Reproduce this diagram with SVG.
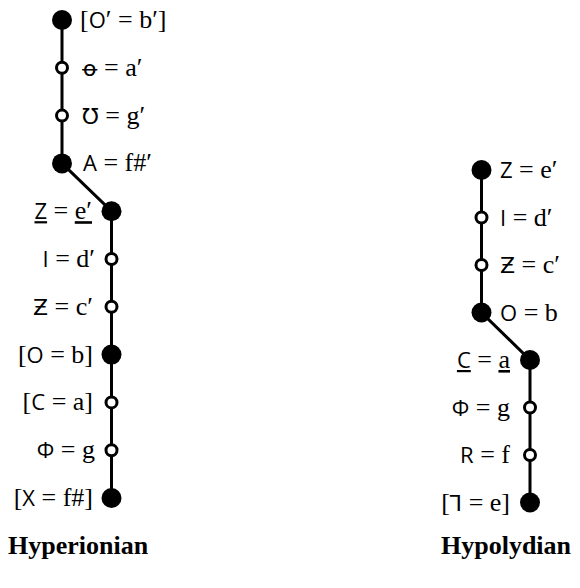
<svg xmlns="http://www.w3.org/2000/svg" width="580" height="588" viewBox="0 0 580 588">
<style>
.edge{stroke:#000;stroke-width:3;fill:none}
.full{fill:#000}
.open{fill:#fff;stroke:#000;stroke-width:3}
.lab{font-family:"Liberation Serif","DejaVu Serif",serif;font-size:26px;fill:#000}
.sym{font-family:"Open Sans","DejaVu Sans",sans-serif;font-size:22px}
.s{text-anchor:start}
.e{text-anchor:end}
.u{text-decoration:underline}
.title{font-family:"Liberation Serif",serif;font-size:26px;font-weight:bold;fill:#000}
</style>
<rect width="580" height="588" fill="#fff"/>
<g id="connectors">
<polyline class="edge" points="62,20 62,163.4 111.5,211.2 111.5,498"/>
<polyline class="edge" points="481.5,170 481.5,312.5 530,360 530,502.5"/>
</g>
<g id="L1"><circle class="full" cx="62" cy="20" r="10"/><text class="lab s" x="80" y="28">[<tspan class="sym">O</tspan>′ = b′]</text></g>
<g id="L2"><circle class="open" cx="62" cy="67.8" r="5.5"/><text class="lab s" x="82" y="75.8"><tspan class="sym">ꝋ</tspan> = a′</text></g>
<g id="L3"><circle class="open" cx="62" cy="115.6" r="5.5"/><text class="lab s" x="82" y="123.6"><tspan class="sym">Ʊ</tspan> = g′</text></g>
<g id="L4"><circle class="full" cx="62" cy="163.4" r="10"/><text class="lab s" x="83" y="171.4"><tspan class="sym">A</tspan> = f#′</text></g>
<g id="L5"><circle class="full" cx="111.5" cy="211.2" r="10"/><text class="lab e" x="92" y="219.2"><tspan class="sym u">Z</tspan> = <tspan class="u">e′</tspan></text></g>
<g id="L6"><circle class="open" cx="111.5" cy="259" r="5.5"/><text class="lab e" x="95" y="267"><tspan class="sym">I</tspan> = d′</text></g>
<g id="L7"><circle class="open" cx="111.5" cy="306.8" r="5.5"/><text class="lab e" x="93" y="314.8"><tspan class="sym">Ƶ</tspan> = c′</text></g>
<g id="L8"><circle class="full" cx="111.5" cy="354.6" r="10"/><text class="lab e" x="93" y="362.6">[<tspan class="sym">O</tspan> = b]</text></g>
<g id="L9"><circle class="open" cx="111.5" cy="402.4" r="5.5"/><text class="lab e" x="93" y="410.4">[<tspan class="sym">C</tspan> = a]</text></g>
<g id="L10"><circle class="open" cx="111.5" cy="450.2" r="5.5"/><text class="lab e" x="95" y="458.2"><tspan class="sym">Φ</tspan> = g</text></g>
<g id="L11"><circle class="full" cx="111.5" cy="498" r="10"/><text class="lab e" x="93" y="506">[<tspan class="sym">X</tspan> = f#]</text></g>
<g id="R1"><circle class="full" cx="481.5" cy="170" r="10"/><text class="lab s" x="500" y="178"><tspan class="sym">Z</tspan> = e′</text></g>
<g id="R2"><circle class="open" cx="481.5" cy="217.5" r="5.5"/><text class="lab s" x="500" y="225.5"><tspan class="sym">I</tspan> = d′</text></g>
<g id="R3"><circle class="open" cx="481.5" cy="265" r="5.5"/><text class="lab s" x="500" y="273"><tspan class="sym">Ƶ</tspan> = c′</text></g>
<g id="R4"><circle class="full" cx="481.5" cy="312.5" r="10"/><text class="lab s" x="500" y="320.5"><tspan class="sym">O</tspan> = b</text></g>
<g id="R5"><circle class="full" cx="530" cy="360" r="10"/><text class="lab e" x="510" y="368"><tspan class="sym u">C</tspan> = <tspan class="u">a</tspan></text></g>
<g id="R6"><circle class="open" cx="530" cy="407.5" r="5.5"/><text class="lab e" x="510" y="415.5"><tspan class="sym">Φ</tspan> = g</text></g>
<g id="R7"><circle class="open" cx="530" cy="455" r="5.5"/><text class="lab e" x="510" y="463"><tspan class="sym">R</tspan> = f</text></g>
<g id="R8"><circle class="full" cx="530" cy="502.5" r="10"/><text class="lab e" x="510" y="510.5">[<tspan class="sym">⅂</tspan> = e]</text></g>
<g id="titles">
<text class="title" x="8" y="554">Hyperionian</text>
<text class="title" x="441" y="554">Hypolydian</text>
</g>
</svg>
